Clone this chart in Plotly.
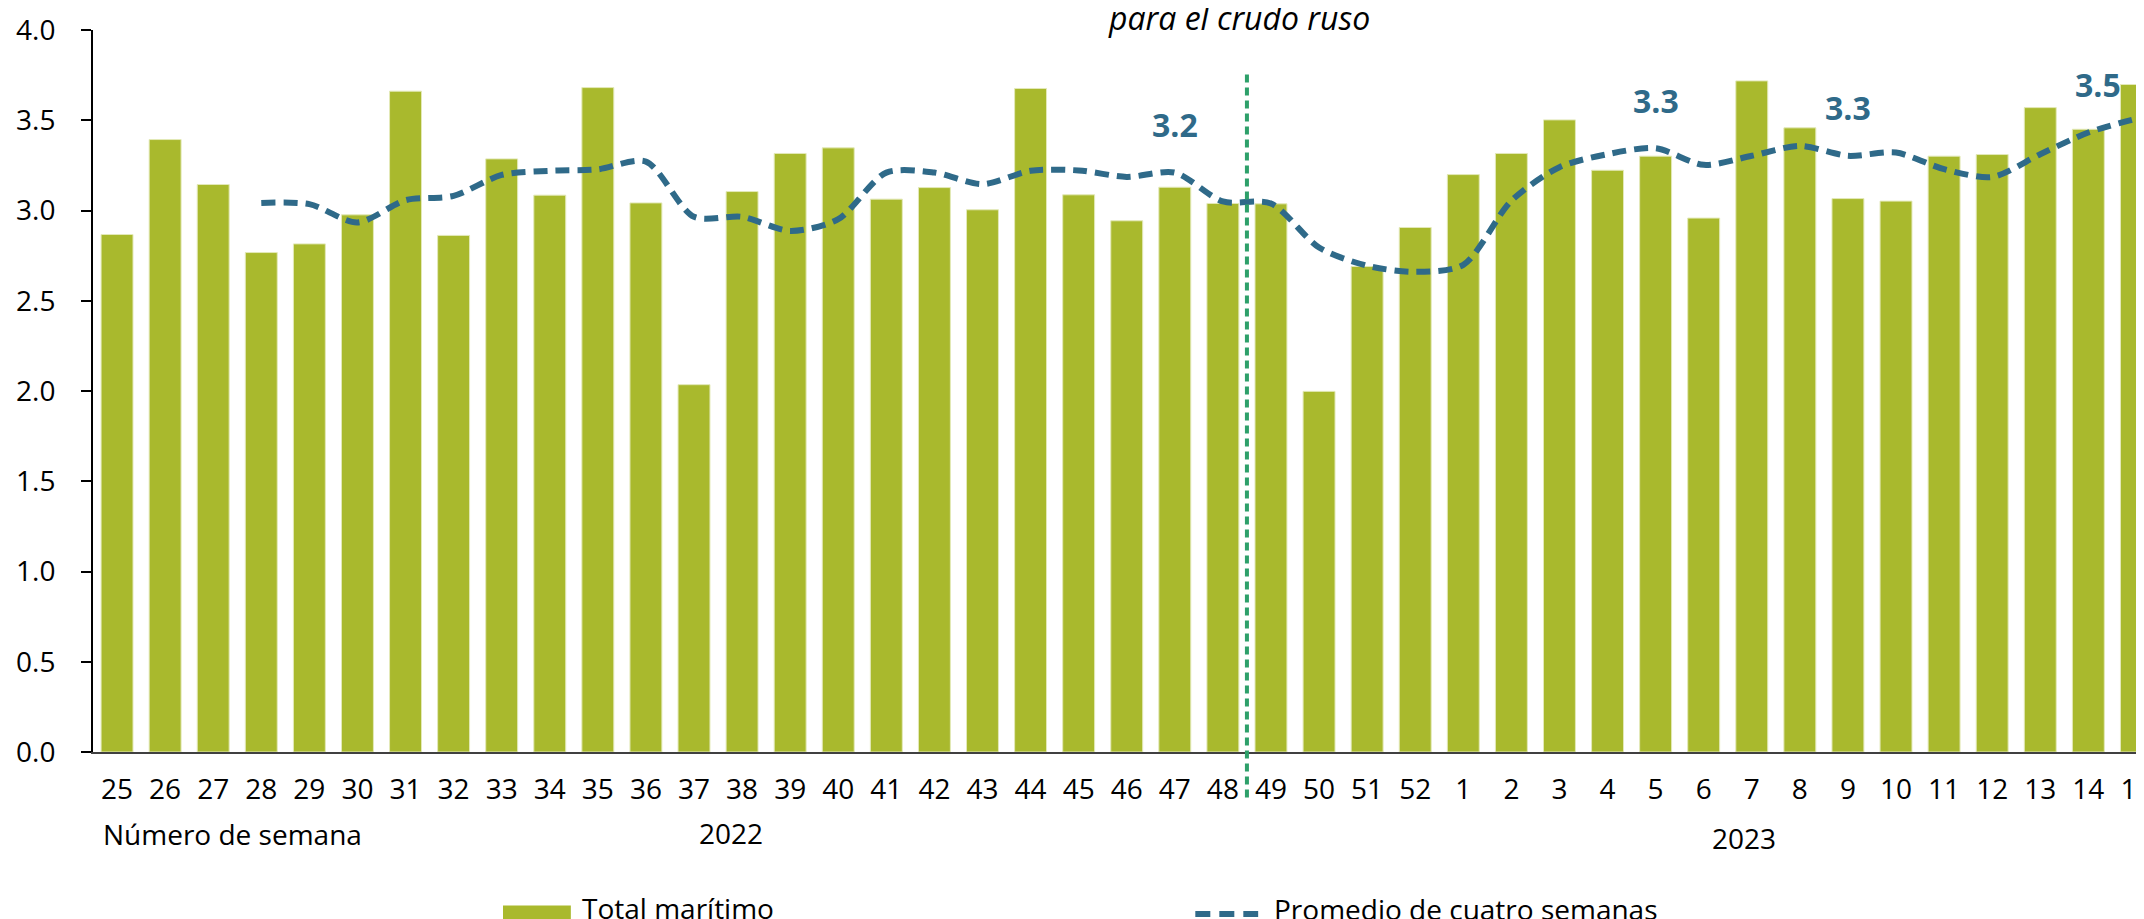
import plotly.graph_objects as go

weeks = ["25", "26", "27", "28", "29", "30", "31", "32", "33", "34", "35", "36", "37", "38",
         "39", "40", "41", "42", "43", "44", "45", "46", "47", "48", "49", "50", "51", "52",
         "1", "2", "3", "4", "5", "6", "7", "8", "9", "10", "11", "12", "13", "14", "15"]

total_maritimo = [2.867, 3.393, 3.144, 2.767, 2.815, 2.976, 3.661, 2.862, 3.286, 3.085,
                  3.681, 3.042, 2.035, 3.105, 3.316, 3.347, 3.063, 3.127, 3.004, 3.676,
                  3.087, 2.943, 3.129, 3.039, 3.037, 1.998, 2.690, 2.906, 3.199, 3.316,
                  3.502, 3.223, 3.301, 2.958, 3.718, 3.458, 3.066, 3.052, 3.301, 3.310,
                  3.570, 3.450, 3.698]

promedio_4 = [None, None, None, 3.042, 3.035, 2.934, 3.057, 3.081, 3.197, 3.220,
              3.228, 3.271, 2.965, 2.965, 2.887, 2.952, 3.210, 3.210, 3.146, 3.220,
              3.222, 3.186, 3.210, 3.050, 3.039, 2.795, 2.694, 2.660, 2.699, 3.054,
              3.240, 3.312, 3.345, 3.253, 3.303, 3.358, 3.303, 3.321, 3.229, 3.186,
              3.312, 3.432, 3.509]

labelled_weeks = ["47", "5", "9", "15"]
year_labels = ["2022", "2023"]
y_ticks = [0, 0.5, 1.0, 1.5, 2.0, 2.5, 3.0, 3.5, 4.0]

BAR_COLOR = "#A9B92D"
LINE_COLOR = "#2F6A89"
VLINE_COLOR = "#2EA06A"
FONT = "Open Sans"

fig = go.Figure()
fig.add_trace(go.Bar(
    x=weeks, y=total_maritimo, name="Total marítimo",
    marker=dict(color=BAR_COLOR, line=dict(color="#E3E9B8", width=1)),
    showlegend=False,
))
fig.add_trace(go.Scatter(
    x=weeks, y=promedio_4, name="Promedio de cuatro semanas", mode="lines",
    line=dict(color=LINE_COLOR, width=6, dash="14px,8px", shape="spline", smoothing=0.8),
    connectgaps=False, showlegend=False,
))

annotations = []
# data labels on the moving-average line (x given as category index)
for w in labelled_weeks:
    i = weeks.index(w)
    v = promedio_4[i]
    last = (i == len(weeks) - 1)
    annotations.append(dict(
        x=i, y=v, xref="x", yref="y", text=f"<b>{v:.1f}</b>", showarrow=False,
        font=dict(family=FONT, size=32, color=LINE_COLOR),
        yshift=34 if last else 48, xshift=-38 if last else 0,
    ))

# title fragment (cropped at top in reference)
annotations.append(dict(
    x=(1234 - 85) / 2059, y=1.0172, xref="paper", yref="paper",
    text="<i>para el crudo ruso</i>", showarrow=False,
    font=dict(family=FONT, size=32, color="#000000"), xanchor="center", yanchor="middle",
))
# axis title and year labels
annotations.append(dict(
    x=(93 - 85) / 2059, y=-0.1142, xref="paper", yref="paper", text="Número de semana",
    showarrow=False, font=dict(family=FONT, size=28, color="#000000"),
    xanchor="left", yanchor="middle",
))
annotations.append(dict(
    x=(725 - 85) / 2059, y=-0.1128, xref="paper", yref="paper", text=year_labels[0],
    showarrow=False, font=dict(family=FONT, size=28, color="#000000"),
    xanchor="center", yanchor="middle",
))
annotations.append(dict(
    x=(1740 - 85) / 2059, y=-0.1198, xref="paper", yref="paper", text=year_labels[1],
    showarrow=False, font=dict(family=FONT, size=28, color="#000000"),
    xanchor="center", yanchor="middle",
))
# legend texts
annotations.append(dict(
    x=(573 - 85) / 2059, y=-0.2160, xref="paper", yref="paper", text="Total marítimo",
    showarrow=False, font=dict(family=FONT, size=28, color="#000000"),
    xanchor="left", yanchor="middle",
))
annotations.append(dict(
    x=(1267 - 85) / 2059, y=-0.2180, xref="paper", yref="paper",
    text="Promedio de cuatro semanas",
    showarrow=False, font=dict(family=FONT, size=28, color="#000000"),
    xanchor="left", yanchor="middle",
))

shapes = [
    # vertical separator between week 48 and 49
    dict(type="line", xref="x", yref="paper", x0=23.5, x1=23.5,
         y0=(744.5 - 790) / 722.4, y1=(744.5 - 66) / 722.4,
         line=dict(color=VLINE_COLOR, width=4, dash="8px,5px")),
    # legend symbols
    dict(type="rect", xref="paper", yref="paper",
         x0=(496 - 85) / 2059, x1=(564 - 85) / 2059,
         y0=(744.5 - 916) / 722.4, y1=(744.5 - 898) / 722.4,
         fillcolor=BAR_COLOR, line=dict(width=0)),
    dict(type="line", xref="paper", yref="paper",
         x0=(1190 - 85) / 2059, x1=(1253 - 85) / 2059,
         y0=(744.5 - 906.7) / 722.4, y1=(744.5 - 906.7) / 722.4,
         line=dict(color=LINE_COLOR, width=6, dash="15px,9px")),
]

fig.update_layout(
    width=2144, height=919,
    margin=dict(l=85, r=0, t=22.1, b=174.5, pad=0),
    paper_bgcolor="white", plot_bgcolor="white",
    bargap=0.336,
    font=dict(family=FONT, size=28, color="#000000"),
    annotations=annotations, shapes=shapes,
    showlegend=False,
)
fig.update_xaxes(
    type="category", range=[-0.5, 42.22],
    showline=True, linecolor="#404040", linewidth=2,
    showgrid=False, ticks="", ticklabelstandoff=11,
    tickfont=dict(family=FONT, size=28, color="#000000"),
)
fig.update_yaxes(
    range=[0, 4], tickvals=y_ticks, tickformat=".1f",
    showline=True, linecolor="#000000", linewidth=2,
    ticks="outside", ticklen=10, tickwidth=2, tickcolor="#000000",
    showgrid=False, zeroline=False, ticklabelstandoff=20,
    tickfont=dict(family=FONT, size=28, color="#000000"),
)

fig.write_html("out.html")
